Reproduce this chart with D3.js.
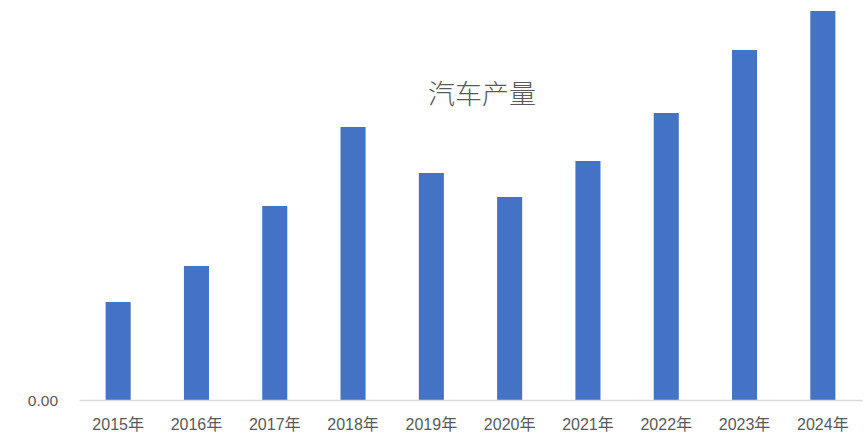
<!DOCTYPE html>
<html><head><meta charset="utf-8">
<script src="https://cdn.jsdelivr.net/npm/d3@7"></script>
<style>body{margin:0;background:#fff}svg{display:block}</style>
</head><body>
<svg id="c" width="868" height="445"></svg>
<script>
const categories = ["2015年","2016年","2017年","2018年","2019年","2020年","2021年","2022年","2023年","2024年"];
const values = [98, 134, 194, 273, 227, 203, 239, 287, 350, 389];
const title = "汽车产量";
const yTickLabels = ["0.00"];

const W = 868, H = 445;
const m = {left: 79, right: 6, top: 0, bottom: 45};
const svg = d3.select("#c");
const x = d3.scaleBand().domain(categories).range([m.left, W - m.right]).paddingInner(0.68).paddingOuter(0.34);
const y = d3.scaleLinear().domain([0, 400]).range([H - m.bottom, m.top]);

svg.append("g").selectAll("rect").data(values).join("rect")
  .attr("x", (d, i) => x(categories[i]))
  .attr("width", x.bandwidth())
  .attr("y", d => y(d))
  .attr("height", d => y(0) - y(d))
  .attr("fill", "#4472C4");

const xAxis = svg.append("g").attr("transform", `translate(0,${y(0)})`)
  .call(d3.axisBottom(x).tickSize(0).tickPadding(19));
xAxis.select(".domain").attr("stroke", "#D9D9D9").attr("stroke-width", 1.5);
xAxis.selectAll("text").attr("fill", "#595959").style("font-size", "16px")
  .style("font-family", "'Liberation Sans','Noto Sans CJK SC',sans-serif");

svg.append("g").selectAll("text").data(yTickLabels).join("text")
  .attr("x", 58).attr("y", y(0) + 6).attr("text-anchor", "end")
  .attr("fill", "#595959").style("font-size", "15.5px")
  .style("font-family", "'Liberation Sans',sans-serif").text(d => d);

svg.append("text").attr("x", 482).attr("y", 104).attr("text-anchor", "middle")
  .attr("fill", "#595959").style("font-size", "27px")
  .style("font-family", "'Noto Sans CJK SC',sans-serif").style("font-weight", "300")
  .text(title);
</script>
</body></html>
